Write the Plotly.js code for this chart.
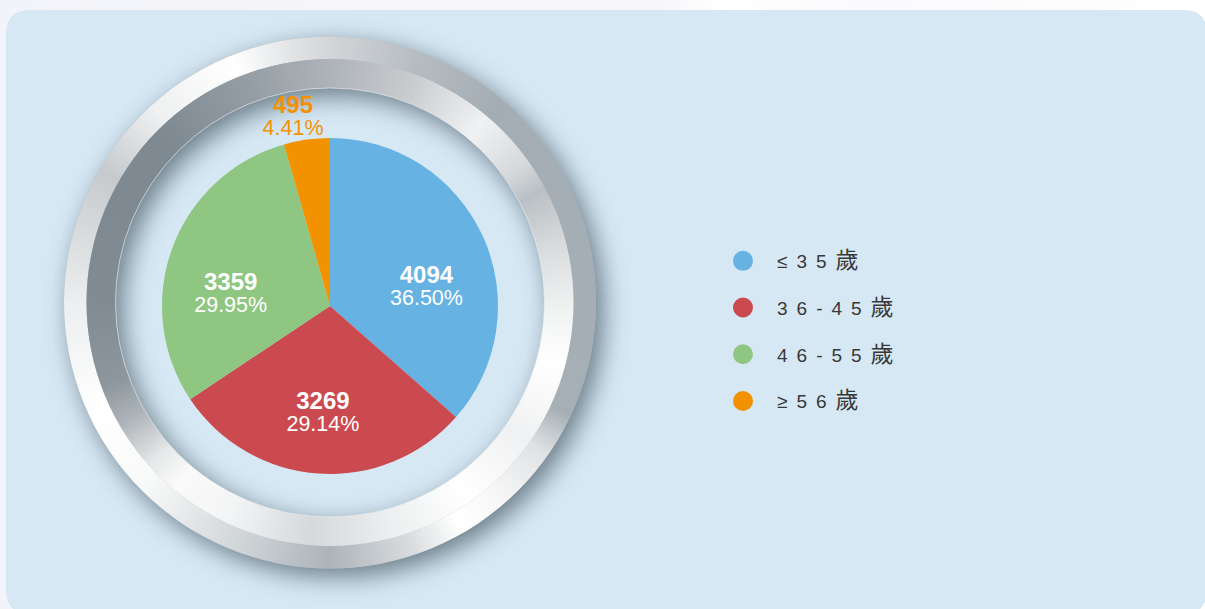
<!DOCTYPE html>
<html><head><meta charset="utf-8">
<script src="https://cdn.plot.ly/plotly-3.0.1.min.js"></script>
<style>
html,body{margin:0;padding:0;background:#fff;overflow:hidden}
#chart{width:1205px;height:609px}
.legendtext{letter-spacing:9px}
</style></head><body><div id="chart"></div>
<script>
// ---- data ----
const categories = ['≤35歲', '36-45歲', '46-55歲', '≥56歲'];
const values = [4094, 3269, 3359, 495];
const sliceColors = ['#66b2e3', '#cb4a4f', '#8fc682', '#f39200'];

// ---- decorative background (panel + metallic ring) ----
function hexToRgb(h){h=h.replace('#','');return [parseInt(h.substr(0,2),16),parseInt(h.substr(2,2),16),parseInt(h.substr(4,2),16)];}
function drawBand(g, cx, cy, r0, r1, stops){
  g.save();
  g.beginPath(); g.arc(cx,cy,r1,0,2*Math.PI); g.arc(cx,cy,r0,0,2*Math.PI,true); g.closePath();
  g.clip();
  if (g.createConicGradient){
    const grad = g.createConicGradient(-Math.PI/2, cx, cy);
    stops.forEach(s => grad.addColorStop(s[0]/360, s[1]));
    g.fillStyle = grad;
    g.fillRect(cx-r1-2, cy-r1-2, 2*r1+4, 2*r1+4);
  } else {
    for (let a=0; a<360; a+=0.5){
      let i=0; while(i<stops.length-2 && stops[i+1][0]<=a) i++;
      const s0=stops[i], s1=stops[i+1], t=(a-s0[0])/(s1[0]-s0[0]);
      const c0=hexToRgb(s0[1]), c1=hexToRgb(s1[1]);
      const c=c0.map((v,k)=>Math.round(v+(c1[k]-v)*t));
      const a0=(a-90-0.4)*Math.PI/180, a1=(a-90+0.6)*Math.PI/180;
      g.beginPath(); g.moveTo(cx,cy); g.arc(cx,cy,r1+2,a0,a1); g.closePath();
      g.fillStyle='rgb('+c.join(',')+')'; g.fill();
    }
  }
  g.restore();
}
function decor(){
  const W=1205,H=609, cx=330, cy=302.5;
  const c=document.createElement('canvas'); c.width=W; c.height=H;
  const g=c.getContext('2d');
  const top=g.createLinearGradient(0,0,W,0);
  top.addColorStop(0,'#f3f4f9'); top.addColorStop(0.55,'#f7f7fb'); top.addColorStop(0.6,'#ffffff'); top.addColorStop(0.72,'#fafafd'); top.addColorStop(1,'#ffffff');
  g.fillStyle=top; g.fillRect(0,0,W,H);
  // rounded panel
  const x0=6,y0=10,x1=1207,y1=614,r=24;
  g.beginPath(); g.moveTo(x0+r,y0); g.lineTo(x1-r,y0); g.quadraticCurveTo(x1,y0,x1,y0+r);
  g.lineTo(x1,y1-r); g.quadraticCurveTo(x1,y1,x1-r,y1); g.lineTo(x0+r,y1); g.quadraticCurveTo(x0,y1,x0,y1-r);
  g.lineTo(x0,y0+r); g.quadraticCurveTo(x0,y0,x0+r,y0); g.closePath();
  g.fillStyle='#d6e8f4'; g.fill();
  // ring shadow (outer drop + inner)
  g.save();
  g.shadowColor='rgba(35,55,65,0.62)'; g.shadowBlur=26; g.shadowOffsetX=7; g.shadowOffsetY=8;
  g.beginPath(); g.arc(cx,cy,266,0,2*Math.PI); g.arc(cx,cy,214.5,0,2*Math.PI,true); g.closePath();
  g.fillStyle='#b0b8bd'; g.fill();
  g.restore();
  const outer=[[0,'#d3d5d8'],[20,'#b5bcc1'],[40,'#a4adb4'],[115,'#a6afb5'],[125,'#dfe2e4'],[140,'#f8f8f8'],[150,'#ffffff'],[162,'#d8dbdd'],[180,'#acb4ba'],[200,'#cfd4d7'],[225,'#f8f9f9'],[245,'#ffffff'],[270,'#eceeef'],[300,'#c6cacd'],[318,'#eff0f1'],[338,'#ffffff'],[352,'#e0e2e4'],[360,'#d3d5d8']];
  const inner=[[0,'#aeb3b8'],[20,'#c8cbce'],[40,'#f0f1f2'],[55,'#d5d8db'],[62,'#b9bfc3'],[75,'#d7dadc'],[90,'#eef0f0'],[105,'#ffffff'],[125,'#f0f1f2'],[145,'#ffffff'],[165,'#eceeef'],[185,'#d5d9db'],[205,'#f3f4f5'],[220,'#fafafa'],[228,'#e6e8e9'],[240,'#adb3b8'],[250,'#8d969d'],[270,'#808b94'],[295,'#7e8992'],[315,'#7e8992'],[340,'#959ea5'],[360,'#aeb3b8']];
  drawBand(g,cx,cy,243.5,266,outer);
  drawBand(g,cx,cy,214.5,243.5,inner);
  g.beginPath(); g.arc(cx,cy,214.5,0,2*Math.PI); g.strokeStyle='rgba(255,255,255,0.5)'; g.lineWidth=1; g.stroke();
  return c.toDataURL('image/png');
}

// ---- chart ----
const W=1205, H=609;
const pcx=330, pcy=306, pr=168;
function dom(dx, dy){ return {x:[(pcx+dx-pr)/W,(pcx+dx+pr)/W], y:[(H-pcy-dy-pr)/H,(H-pcy-dy+pr)/H]}; }
const labelFont = 'Liberation Sans, Arial, sans-serif';
const labelTemplate = '<span style="font-size:24px"><b>%{value}</b></span><br><span style="font-size:21.5px">%{percent:.2%}</span>';
// slices
const pie = {
  type:'pie', values: values, labels: categories, sort:false, direction:'clockwise', rotation:0,
  marker:{colors: sliceColors, line:{width:0}},
  textinfo:'none', showlegend:false, hoverinfo:'label+value+percent',
  domain: dom(0,0)
};
// transparent label layers over the same data (label placement only)
function labelLayer(positions, d, hole){
  return {
    type:'pie', values: values, labels: categories, sort:false, direction:'clockwise', rotation:0,
    hole: hole,
    marker:{colors: sliceColors.map(()=> 'rgba(0,0,0,0)'), line:{width:0}},
    texttemplate: labelTemplate, textposition: positions,
    insidetextorientation:'horizontal',
    textfont:{family:labelFont, size:17},
    insidetextfont:{color:'#ffffff', family:labelFont, size:17},
    outsidetextfont:{color:'#f39200', family:labelFont, size:17},
    automargin:false, showlegend:false, hoverinfo:'skip',
    domain: d
  };
}
const labelsA = labelLayer(['none','inside','none','none'], dom(0,0), 0.26);
const labelsB = labelLayer(['inside','none','inside','none'], dom(0,23), 0.26);
const labelsC = labelLayer(['none','none','none','outside'], dom(29,0), 0);
const legendTraces = categories.map((name,i)=>({
  type:'scatter', mode:'markers', x:[null], y:[null],
  name: name.replace(/歲/g,'<span style="font-size:23px">歲</span>'), legendgroup:'g'+i,
  marker:{color:sliceColors[i], size:16, symbol:'circle', line:{color:sliceColors[i], width:4}},
  hoverinfo:'skip', showlegend:true
}));
const layout = {
  width:W, height:H, margin:{l:0,r:0,t:0,b:0},
  paper_bgcolor:'#ffffff', plot_bgcolor:'rgba(0,0,0,0)',
  xaxis:{visible:false, range:[0,1], fixedrange:true},
  yaxis:{visible:false, range:[0,1], fixedrange:true},
  showlegend:true,
  legend:{x:709/W, y:1-242/H, xanchor:'left', yanchor:'top', bgcolor:'rgba(0,0,0,0)', borderwidth:0,
    font:{family:'Liberation Sans, Noto Sans CJK TC, sans-serif', size:19, color:'#383838'},
    itemwidth:58, tracegroupgap:19, itemclick:false, itemdoubleclick:false},
  images:[{source:decor(), xref:'paper', yref:'paper', x:0, y:1, sizex:1, sizey:1, xanchor:'left', yanchor:'top', sizing:'stretch', layer:'below'}]
};
Plotly.newPlot('chart', [pie, labelsA, labelsB, labelsC].concat(legendTraces), layout, {displayModeBar:false});
</script></body></html>
